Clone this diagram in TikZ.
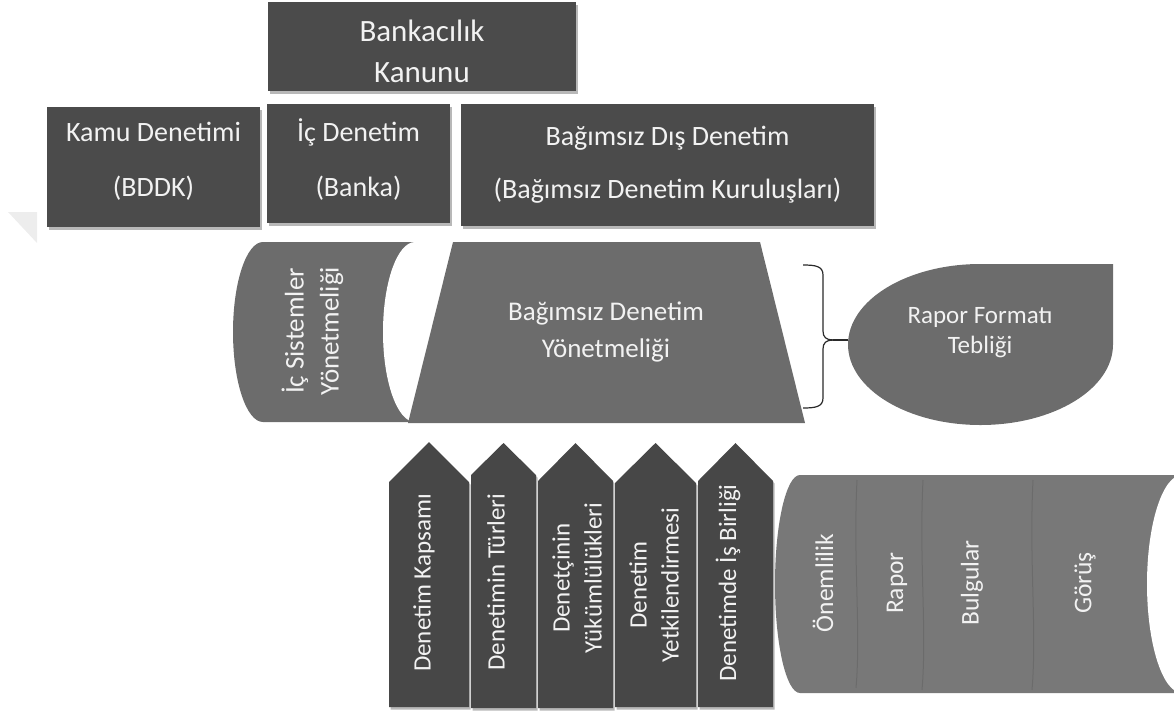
\documentclass[tikz,border=0pt]{standalone}
\usepackage{fontspec}
\setmainfont{Carlito}
\usetikzlibrary{shadows}
\definecolor{boxdark}{HTML}{4B4B4B}
\definecolor{arrowdark}{HTML}{474747}
\definecolor{midgray}{HTML}{6C6C6C}
\definecolor{cylgray}{HTML}{787878}
\definecolor{linegray}{HTML}{2A2A2A}
\definecolor{fadegray}{HTML}{EDEDED}
\definecolor{txt}{HTML}{F2F2F2}
\begin{document}
\begin{tikzpicture}[x=1pt,y=1pt,
  softshadow/.style={drop shadow={shadow xshift=1.5pt, shadow yshift=-2.5pt, opacity=0.28, fill=black}},
  topbox/.style={fill=boxdark, draw=none, inner sep=0pt, softshadow},
  lbl/.style={text=txt, align=center, inner sep=0pt},
  arrowshape/.style={fill=arrowdark, softshadow},
  bracestyle/.style={draw=linegray, line width=1.2pt}]
\useasboundingbox (0,0) rectangle (1174,-715);
\clip (0,0) rectangle (1174,-715);

% faint watermark fragment
\fill[fadegray] (8,-212) -- (37,-212) -- (37,-243) -- cycle;

% top row
\node[topbox, minimum width=308pt, minimum height=89pt] (bk) at (422,-46.5) {};
\node[lbl, font=\fontsize{31}{41}\selectfont] (bkt) at ([yshift=-5pt]bk.center) {Bankacılık\\Kanunu};
\node[topbox, minimum width=213pt, minimum height=120pt] (kamu) at (153.5,-167) {};
\node[lbl, font=\fontsize{28}{55}\selectfont] (kamut) at ([yshift=6pt]kamu.center) {Kamu Denetimi\\(BDDK)};
\node[topbox, minimum width=183pt, minimum height=119pt] (ic) at (358.5,-163.5) {};
\node[lbl, font=\fontsize{28}{55}\selectfont] (ict) at ([yshift=4pt]ic.center) {İç Denetim\\(Banka)};
\node[topbox, minimum width=413pt, minimum height=122pt] (bdd) at (667.5,-165) {};
\node[lbl, font=\fontsize{28}{53}\selectfont] (bddt) at (bdd.center) {Bağımsız Dış Denetim\\(Bağımsız Denetim Kuruluşları)};

% left cylinder
\fill[midgray] (415,-242) -- (263,-242) arc[start angle=90, end angle=270, x radius=30, y radius=90] -- (415,-422) -- cycle;
\fill[white] (415,-332) ellipse[x radius=32, y radius=90];
\node[lbl, rotate=90, font=\fontsize{27}{35}\selectfont] (isy) at (312.5,-331) {İç Sistemler\\Yönetmeliği};

% trapezoid
\fill[midgray] (453,-242) -- (760,-242) -- (805,-423) -- (408,-423) -- cycle;
\node[lbl, font=\fontsize{27}{37}\selectfont] (bdy) at (606,-332) {Bağımsız Denetim\\Yönetmeliği};

% teardrop
\fill[midgray] (980.5,-264) -- (1113,-264) -- (1113,-344.5) arc[start angle=0, end angle=-270, x radius=132.5, y radius=80.5] -- cycle;
\node[lbl, font=\fontsize{25}{30}\selectfont] (rft) at (980,-333) {Rapor Formatı\\Tebliği};
\coordinate (tdw) at (848,-340);

% brace
\coordinate (btip) at (833,-340);
\draw[bracestyle] (803,-265) .. controls (815,-265) and (823,-266) .. (823,-275) -- (823,-331) .. controls (823,-337) and (826,-340) .. (btip);
\draw[bracestyle] (803,-408) .. controls (815,-408) and (823,-407) .. (823,-398) -- (823,-349) .. controls (823,-343) and (826,-340) .. (btip);
\draw[bracestyle] (btip) -- (tdw);

% right cylinder
\fill[cylgray] (1182,-475) -- (800,-475) arc[start angle=90, end angle=270, x radius=25, y radius=109] -- (1182,-693) -- cycle;
\fill[white] (1182,-584) ellipse[x radius=35, y radius=109];
\draw[black, opacity=0.1, line width=1pt] (857,-480) .. controls (853,-560) and (861,-630) .. (856,-688);
\draw[black, opacity=0.1, line width=1pt] (923,-480) .. controls (919,-560) and (927,-630) .. (922,-690);
\draw[black, opacity=0.1, line width=1pt] (1033,-480) .. controls (1029,-560) and (1037,-630) .. (1032,-690);
\node[lbl, rotate=90, font=\fontsize{25.5}{30}\selectfont] (onem) at (823,-583) {Önemlilik};
\node[lbl, rotate=90, font=\fontsize{25.5}{30}\selectfont] (rap) at (897,-583) {Rapor};
\node[lbl, rotate=90, font=\fontsize{25.5}{30}\selectfont] (bul) at (972,-583) {Bulgular};
\node[lbl, rotate=90, font=\fontsize{25.5}{30}\selectfont] (gor) at (1085,-583) {Görüş};

% arrows
\fill[arrowshape] (389,-707) -- (389,-482) -- (429,-442) -- (469,-482) -- (469,-707) -- cycle;
\fill[arrowshape] (471,-708) -- (471,-475) -- (503.5,-443) -- (536,-475) -- (536,-708) -- cycle;
\fill[arrowshape] (538,-708) -- (538,-481) -- (575.5,-443) -- (613,-481) -- (613,-708) -- cycle;
\fill[arrowshape] (615,-707) -- (615,-483) -- (655.5,-443) -- (696,-483) -- (696,-707) -- cycle;
\fill[arrowshape] (698,-707) -- (698,-481) -- (735.5,-443) -- (773,-481) -- (773,-707) -- cycle;
\node[lbl, rotate=90, font=\fontsize{25}{32}\selectfont] (a1) at (424,-583) {Denetim Kapsamı};
\node[lbl, rotate=90, font=\fontsize{25}{32}\selectfont] (a2) at (496,-582) {Denetimin Türleri};
\node[lbl, rotate=90, font=\fontsize{25}{32}\selectfont] (a3) at (577,-578) {Denetçinin\\Yükümlülükleri};
\node[lbl, rotate=90, font=\fontsize{25}{32}\selectfont] (a4) at (654,-585) {Denetim\\Yetkilendirmesi};
\node[lbl, rotate=90, font=\fontsize{25}{32}\selectfont] (a5) at (728,-583) {Denetimde İş Birliği};
\end{tikzpicture}
\end{document}
